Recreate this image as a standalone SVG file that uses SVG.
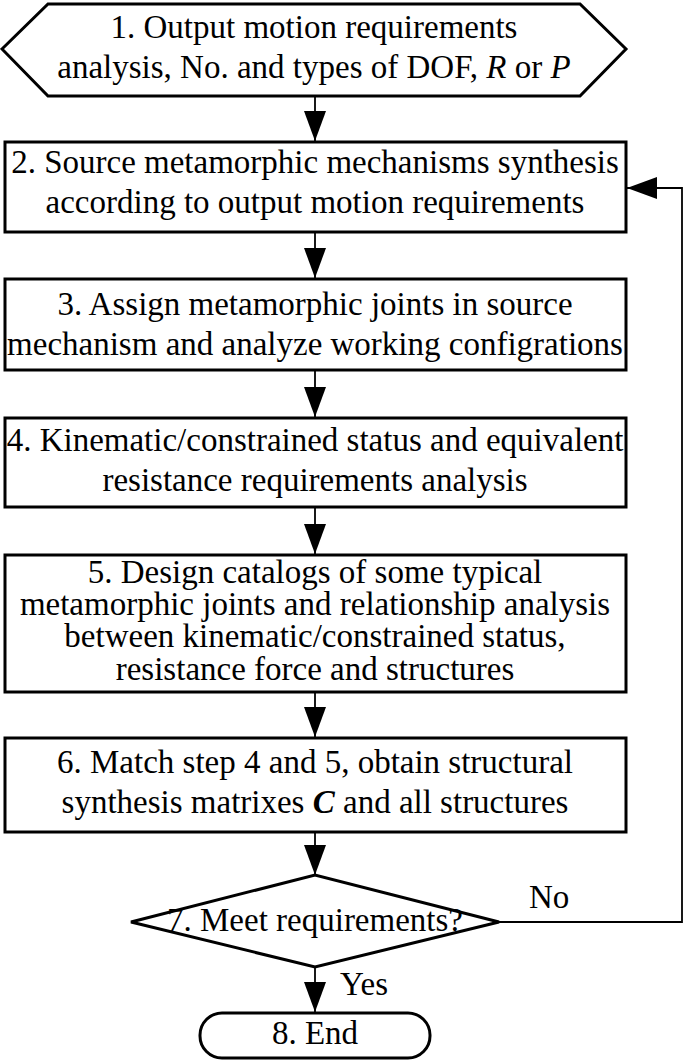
<svg xmlns="http://www.w3.org/2000/svg" width="685" height="1062" viewBox="0 0 685 1062" font-family="'Liberation Serif', 'Times New Roman', serif">
<style>
.node{fill:#fff;stroke:#000;stroke-width:3;stroke-linejoin:miter}
.t{font-family:'Liberation Serif','Times New Roman',serif;font-size:33px;fill:#000;text-anchor:middle}
.lab{font-family:'Liberation Serif','Times New Roman',serif;font-size:33px;fill:#000}
.c{fill:none;stroke:#000;stroke-width:1.8}
</style>
<defs>
<marker id="ah" markerUnits="userSpaceOnUse" markerWidth="30" markerHeight="22" viewBox="0 0 30 22" refX="30" refY="11" orient="auto">
<path d="M0,0 L30,11 L0,22 Z" fill="#000"/>
</marker>
</defs>
<rect width="685" height="1062" fill="#fff"/>
<g id="connectors">
<line class="c" x1="315" y1="96" x2="315" y2="141" marker-end="url(#ah)"/>
<line class="c" x1="315" y1="232" x2="315" y2="278" marker-end="url(#ah)"/>
<line class="c" x1="315" y1="370" x2="315" y2="417" marker-end="url(#ah)"/>
<line class="c" x1="315" y1="507" x2="315" y2="554" marker-end="url(#ah)"/>
<line class="c" x1="315" y1="692" x2="315" y2="737" marker-end="url(#ah)"/>
<line class="c" x1="315" y1="832" x2="315" y2="875" marker-end="url(#ah)"/>
<line class="c" x1="315" y1="967" x2="315" y2="1012" marker-end="url(#ah)"/>
<polyline class="c" points="499,922 682,922 682,188 627,188" marker-end="url(#ah)"/>
<text class="lab" x="529" y="908">No</text>
<text class="lab" x="340" y="995">Yes</text>
</g>
<g id="n1">
<polygon class="node" points="2,49 48,4 580,4 626,49 580,96 48,96"/>
<text class="t" x="314" y="38">1. Output motion requirements</text>
<text class="t" x="314" y="78">analysis, No. and types of DOF, <tspan font-style="italic">R</tspan> or <tspan font-style="italic">P</tspan></text>
</g>
<g id="n2">
<rect class="node" x="5" y="142" width="621" height="90"/>
<text class="t" x="315" y="173">2. Source metamorphic mechanisms synthesis</text>
<text class="t" x="315" y="213">according to output motion requirements</text>
</g>
<g id="n3">
<rect class="node" x="5" y="279" width="621" height="91"/>
<text class="t" x="315" y="315">3. Assign metamorphic joints in source</text>
<text class="t" x="315" y="355">mechanism and analyze working configrations</text>
</g>
<g id="n4">
<rect class="node" x="5" y="418" width="621" height="89"/>
<text class="t" x="315" y="451">4. Kinematic/constrained status and equivalent</text>
<text class="t" x="315" y="491">resistance requirements analysis</text>
</g>
<g id="n5">
<rect class="node" x="5" y="555" width="621" height="137"/>
<text class="t" x="315" y="583">5. Design catalogs of some typical</text>
<text class="t" x="315" y="615">metamorphic joints and relationship analysis</text>
<text class="t" x="315" y="647">between kinematic/constrained status,</text>
<text class="t" x="315" y="680">resistance force and structures</text>
</g>
<g id="n6">
<rect class="node" x="5" y="738" width="621" height="94"/>
<text class="t" x="315" y="773">6. Match step 4 and 5, obtain structural</text>
<text class="t" x="315" y="813">synthesis matrixes <tspan font-style="italic" font-weight="bold">C</tspan> and all structures</text>
</g>
<g id="n7">
<polygon class="node" points="131,922 315,875 499,922 315,967"/>
<text class="t" x="315" y="931">7. Meet requirements?</text>
</g>
<g id="n8">
<rect class="node" x="200" y="1013" width="230" height="45" rx="22" ry="22"/>
<text class="t" x="315" y="1044">8. End</text>
</g>
</svg>
